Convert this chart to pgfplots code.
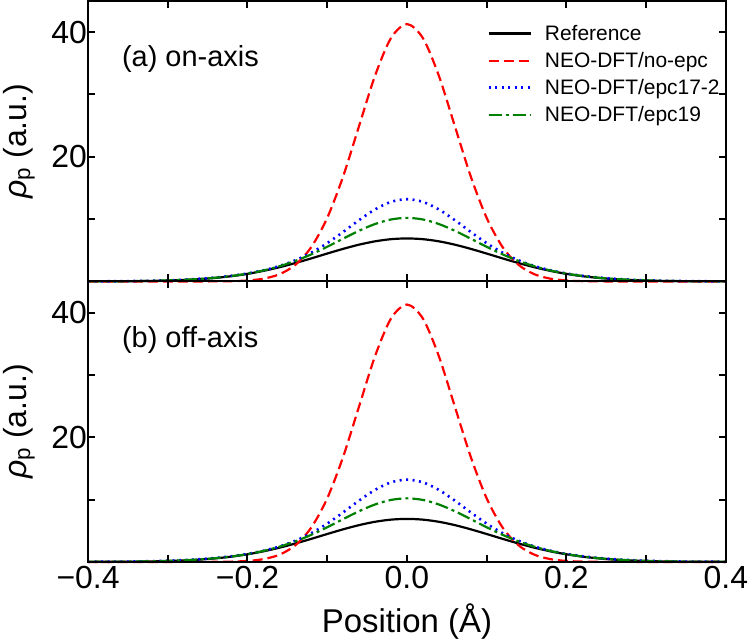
\documentclass[border=0pt]{standalone}
\usepackage{fontspec}
\setmainfont{Liberation Sans}
\usepackage{pgfplots}
\usepackage{pgfplotstable}
\pgfplotsset{compat=1.18}
\definecolor{dgreen}{RGB}{0,128,0}

\pgfplotstableread{
x ref noepc epc172 epc19
-0.40 0.007 0.000 0.013 0.012
-0.38 0.013 0.000 0.024 0.022
-0.36 0.025 0.000 0.041 0.038
-0.34 0.046 0.000 0.070 0.064
-0.32 0.082 0.000 0.115 0.105
-0.30 0.140 0.000 0.184 0.169
-0.28 0.232 0.001 0.285 0.264
-0.26 0.370 0.003 0.432 0.403
-0.24 0.570 0.013 0.635 0.600
-0.22 0.849 0.047 0.911 0.875
-0.20 1.221 0.153 1.285 1.252
-0.18 1.697 0.444 1.790 1.762
-0.16 2.278 1.151 2.472 2.434
-0.14 2.954 2.663 3.392 3.293
-0.12 3.699 5.512 4.609 4.345
-0.10 4.476 10.20 6.146 5.561
-0.08 5.230 16.87 7.947 6.867
-0.06 5.904 24.96 9.843 8.138
-0.04 6.438 33.02 11.557 9.216
-0.02 6.782 39.05 12.764 9.943
0.00 6.900 41.30 13.200 10.200
0.02 6.782 39.05 12.764 9.943
0.04 6.438 33.02 11.557 9.216
0.06 5.904 24.96 9.843 8.138
0.08 5.230 16.87 7.947 6.867
0.10 4.476 10.20 6.146 5.561
0.12 3.699 5.512 4.609 4.345
0.14 2.954 2.663 3.392 3.293
0.16 2.278 1.151 2.472 2.434
0.18 1.697 0.444 1.790 1.762
0.20 1.221 0.153 1.285 1.252
0.22 0.849 0.047 0.911 0.875
0.24 0.570 0.013 0.635 0.600
0.26 0.370 0.003 0.432 0.403
0.28 0.232 0.001 0.285 0.264
0.30 0.140 0.000 0.184 0.169
0.32 0.082 0.000 0.115 0.105
0.34 0.046 0.000 0.070 0.064
0.36 0.025 0.000 0.041 0.038
0.38 0.013 0.000 0.024 0.022
0.40 0.007 0.000 0.013 0.012
}\datatable

\pgfplotsset{
  refl/.style={black, line width=2.2pt, smooth},
  noepc/.style={red, line width=2.2pt, dash pattern=on 10pt off 5pt, smooth},
  epcA/.style={blue, line width=2.6pt, dash pattern=on 2pt off 4.5pt, smooth},
  epcB/.style={dgreen, line width=2.2pt, dash pattern=on 13pt off 4pt on 3pt off 4pt, smooth},
}
\newcommand{\panelframe}{%
  \draw[black, line width=2pt] (rel axis cs:0,0) rectangle (rel axis cs:1,1);
  \pgfplotsinvokeforeach{-0.3,-0.2,-0.1,0,0.1,0.2,0.3}{%
    \draw[black, line width=2pt] (axis cs:##1,0) -- ++(0pt,7pt);
    \draw[black, line width=2pt] (axis cs:##1,45) -- ++(0pt,-7pt);
  }
  \pgfplotsinvokeforeach{10,20,30,40}{%
    \draw[black, line width=2pt] (axis cs:-0.4,##1) -- ++(7pt,0pt);
    \draw[black, line width=2pt] (axis cs:0.4,##1) -- ++(-7pt,0pt);
  }
}

\begin{document}
\begin{tikzpicture}
\begin{axis}[name=top,
    width=639pt, height=281pt, scale only axis, clip=false,
    xmin=-0.4, xmax=0.4, ymin=0, ymax=45,
    major tick length=7pt, minor tick length=7pt,
    xtick={-0.4,-0.2,0,0.2,0.4}, minor xtick={-0.3,-0.1,0.1,0.3},
    ytick={20,40}, minor ytick={10,30},
    yticklabels={20,40},
    xticklabels={{},{},{},{},{}},
    tick label style={font=\fontsize{32}{38}\selectfont, inner sep=2pt},
    yticklabel style={inner sep=1pt},
    label style={font=\fontsize{32}{38}\selectfont},
    ylabel={{\itshape ρ}\textsubscript{p} (a.u.)}, ylabel shift=12pt,
    legend image code/.code={\draw[#1] (0pt,0pt) -- (42pt,0pt);},
    legend style={at={(1,1)}, anchor=north east, xshift=-1pt, yshift=-20pt,
      draw=none, fill=none, font=\fontsize{21}{24}\selectfont, row sep=6.5pt,
      cells={anchor=west}, /tikz/every odd column/.append style={column sep=11pt}},
]
\addplot[refl] table[x=x,y=ref]{\datatable};
\addplot[noepc] table[x=x,y=noepc]{\datatable};
\addplot[epcA] table[x=x,y=epc172]{\datatable};
\addplot[epcB] table[x=x,y=epc19]{\datatable};
\legend{Reference, NEO-DFT/no-epc, NEO-DFT/epc17-2, NEO-DFT/epc19}
\node[anchor=base west, inner sep=0pt, font=\fontsize{29}{34}\selectfont] at (rel axis cs:0.053,0.765) {(a) on-axis};
\panelframe
\end{axis}
\begin{axis}[at={(top.south west)}, anchor=north west,
    width=639pt, height=281pt, scale only axis, clip=false,
    xmin=-0.4, xmax=0.4, ymin=0, ymax=45,
    major tick length=7pt, minor tick length=7pt,
    xtick={-0.4,-0.2,0,0.2,0.4}, minor xtick={-0.3,-0.1,0.1,0.3},
    ytick={20,40}, minor ytick={10,30},
    yticklabels={20,40},
    xticklabels={−0.4,−0.2,0.0,0.2,0.4},
    tick label style={font=\fontsize{32}{38}\selectfont, inner sep=2pt},
    xticklabel style={inner sep=4pt},
    yticklabel style={inner sep=1pt},
    label style={font=\fontsize{32}{38}\selectfont},
    xlabel style={font=\fontsize{33}{38}\selectfont, inner sep=2pt},
    xlabel shift=9pt,
    ylabel={{\itshape ρ}\textsubscript{p} (a.u.)}, ylabel shift=12pt,
    xlabel={Position (Å)},
]
\addplot[refl] table[x=x,y=ref]{\datatable};
\addplot[noepc] table[x=x,y=noepc]{\datatable};
\addplot[epcA] table[x=x,y=epc172]{\datatable};
\addplot[epcB] table[x=x,y=epc19]{\datatable};
\node[anchor=base west, inner sep=0pt, font=\fontsize{29}{34}\selectfont] at (rel axis cs:0.053,0.765) {(b) off-axis};
\panelframe
\end{axis}
\end{tikzpicture}
\end{document}
